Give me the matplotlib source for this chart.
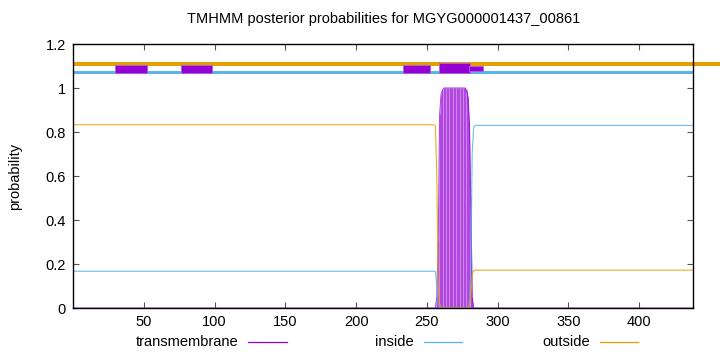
import numpy as np
import matplotlib
matplotlib.use("Agg")
import matplotlib.pyplot as plt
from matplotlib.lines import Line2D
from matplotlib.patches import Rectangle

plt.rcParams['font.family'] = ['Liberation Sans', 'DejaVu Sans']

title = "TMHMM posterior probabilities for MGYG000001437_00861"
seq_len = 438

# run-length encoded posterior probabilities (value, count) per residue
outside_runs = [(0.833, 255), (0.83, 1), (0.6, 1), (0.1, 1), (0.02, 1), (0.0, 21),
                (0.05, 1), (0.15, 1), (0.17, 1), (0.172, 155)]
inside_runs = [(0.167, 256), (0.1, 1), (0.02, 1), (0.0, 21), (0.02, 1), (0.15, 1),
               (0.7, 1), (0.82, 1), (0.83, 155)]
tm_runs = [(0.0, 256), (0.05, 1), (0.3, 1), (0.88, 1), (0.97, 1), (0.99, 1), (1.0, 16),
           (0.99, 1), (0.96, 1), (0.85, 1), (0.5, 1), (0.05, 1), (0.0, 156)]

# predicted segments shown at the top
seg_start = [29.6, 76.4, 233.4, 258.3, 280.0]
seg_end = [52.0, 98.3, 252.4, 280.4, 289.3]
seg_low = [1.068, 1.068, 1.068, 1.068, 1.079]
seg_high = [1.103, 1.103, 1.103, 1.114, 1.100]

xticks = [50, 100, 150, 200, 250, 300, 350, 400]
yticks = [0, 0.2, 0.4, 0.6, 0.8, 1.0, 1.2]
ytick_labels = ["0", "0.2", "0.4", "0.6", "0.8", "1", "1.2"]
legend_names = ["transmembrane", "inside", "outside"]

C_TM = '#9400d3'
C_IN = '#56b4e9'
C_OUT = '#e69f00'
FS = 10.5


def expand(runs):
    return np.concatenate([np.full(n, v) for v, n in runs])


outside = expand(outside_runs)
inside = expand(inside_runs)
tm = expand(tm_runs)
pos = np.arange(1, len(tm) + 1)

fig = plt.figure(figsize=(7.2, 3.52), dpi=100)
ax = fig.add_axes([73/720, 1 - 308/352, (693-73)/720, (308-44)/352])

# transmembrane area
ax.fill_between(pos, 0, tm, color='#cc85ea', lw=0, zorder=2)
nz = tm > 0
ax.vlines(pos[nz], 0, tm[nz], color=C_TM, lw=0.6, alpha=0.55, zorder=3)
ax.plot(pos, tm, color=C_TM, lw=0.8, alpha=0.7, zorder=3)

ax.plot(pos, inside, color=C_IN, lw=0.8, alpha=0.85, zorder=4)
ax.plot(pos, outside, color=C_OUT, lw=0.8, alpha=0.85, zorder=4)

# topology bars
ax.plot([0, 470], [1.11, 1.11], color=C_OUT, lw=2.9, clip_on=False, zorder=5,
        solid_capstyle='butt')
ax.plot([0, seq_len], [1.071, 1.071], color=C_IN, lw=2.1, zorder=5,
        solid_capstyle='butt')
for s, e, lo, hi in zip(seg_start, seg_end, seg_low, seg_high):
    ax.add_patch(Rectangle((s, lo), e - s, hi - lo, facecolor=C_TM,
                           edgecolor='#b060e0', lw=0.6, zorder=6))

ax.set_xlim(0, seq_len)
ax.set_ylim(0, 1.2)
ax.set_xticks(xticks)
ax.set_xticklabels([str(t) for t in xticks])
ax.set_yticks(yticks)
ax.set_yticklabels(ytick_labels)
ax.tick_params(direction='in', length=4, width=0.8, top=True, right=True,
               labelsize=FS, color='#555555', pad=5)
for sp in ax.spines.values():
    sp.set_linewidth(1.0)
    sp.set_color('black')
    sp.set_zorder(7)
fig.text(15/720, 1 - 176/352, "probability", rotation=90, ha='center',
         va='center', fontsize=FS)
fig.text(384/720, 1 - 19/352, title, ha='center', va='center', fontsize=FS)

# legend row
leg = [(238, 248, 287, C_TM), (414, 424, 462, C_IN), (590, 600, 638, C_OUT)]
for name, (tx, l0, l1, c) in zip(legend_names, leg):
    y = 1 - 342/352
    fig.text(tx/720, y, name, ha='right', va='center', fontsize=FS)
    fig.add_artist(Line2D([l0/720, l1/720], [y, y], color=c, lw=0.9,
                          transform=fig.transFigure))

fig.savefig("out.png", dpi=100)
